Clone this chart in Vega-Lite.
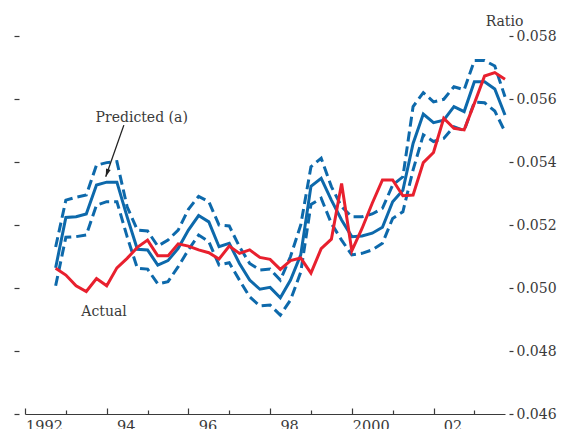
{
  "$schema": "https://vega.github.io/schema/vega-lite/v6.json",
  "width": 480,
  "height": 378,
  "autosize": {"type": "none"},
  "padding": {"left": 25, "top": 36, "right": 61, "bottom": 15},
  "background": "white",
  "config": {
    "view": {"stroke": null},
    "font": "DejaVu Serif",
    "axis": {
      "labelFont": "DejaVu Serif",
      "labelFontSize": 14,
      "labelColor": "#3a3a3a",
      "titleFont": "DejaVu Serif",
      "titleFontSize": 14,
      "titleFontWeight": "normal",
      "titleColor": "#3a3a3a",
      "grid": false,
      "domainColor": "#3a3a3a",
      "tickColor": "#3a3a3a",
      "tickWidth": 1.2
    }
  },
  "data": {
    "values": [
      {"t": 1992.75, "actual": 0.05063, "predicted": 0.05064, "upper": 0.0513, "lower": 0.05007},
      {"t": 1993.0, "actual": 0.05041, "predicted": 0.05224, "upper": 0.05279, "lower": 0.05161},
      {"t": 1993.25, "actual": 0.05007, "predicted": 0.05226, "upper": 0.05288, "lower": 0.05163},
      {"t": 1993.5, "actual": 0.04989, "predicted": 0.05235, "upper": 0.05295, "lower": 0.05168},
      {"t": 1993.75, "actual": 0.0503, "predicted": 0.05327, "upper": 0.0539, "lower": 0.05263},
      {"t": 1994.0, "actual": 0.05007, "predicted": 0.05336, "upper": 0.05398, "lower": 0.05274},
      {"t": 1994.25, "actual": 0.05064, "predicted": 0.05336, "upper": 0.05401, "lower": 0.05274},
      {"t": 1994.5, "actual": 0.05094, "predicted": 0.05226, "upper": 0.05258, "lower": 0.05163},
      {"t": 1994.75, "actual": 0.05129, "predicted": 0.05123, "upper": 0.05184, "lower": 0.05063},
      {"t": 1995.0, "actual": 0.05152, "predicted": 0.05121, "upper": 0.05181, "lower": 0.0506},
      {"t": 1995.25, "actual": 0.05102, "predicted": 0.05073, "upper": 0.05133, "lower": 0.05013},
      {"t": 1995.5, "actual": 0.05102, "predicted": 0.05087, "upper": 0.05152, "lower": 0.0502},
      {"t": 1995.75, "actual": 0.0514, "predicted": 0.05126, "upper": 0.05184, "lower": 0.05068},
      {"t": 1996.0, "actual": 0.05133, "predicted": 0.05184, "upper": 0.0525, "lower": 0.05121},
      {"t": 1996.25, "actual": 0.05121, "predicted": 0.0523, "upper": 0.05291, "lower": 0.05168},
      {"t": 1996.5, "actual": 0.05112, "predicted": 0.0521, "upper": 0.05274, "lower": 0.05147},
      {"t": 1996.75, "actual": 0.05092, "predicted": 0.05131, "upper": 0.052, "lower": 0.05073},
      {"t": 1997.0, "actual": 0.05133, "predicted": 0.05142, "upper": 0.05197, "lower": 0.0508},
      {"t": 1997.25, "actual": 0.0511, "predicted": 0.05078, "upper": 0.05131, "lower": 0.05025},
      {"t": 1997.5, "actual": 0.05121, "predicted": 0.05025, "upper": 0.05078, "lower": 0.04972},
      {"t": 1997.75, "actual": 0.05097, "predicted": 0.04996, "upper": 0.05057, "lower": 0.04943},
      {"t": 1998.0, "actual": 0.05091, "predicted": 0.05002, "upper": 0.0506, "lower": 0.04946},
      {"t": 1998.25, "actual": 0.05059, "predicted": 0.04969, "upper": 0.05025, "lower": 0.04914},
      {"t": 1998.5, "actual": 0.05087, "predicted": 0.05025, "upper": 0.051, "lower": 0.04962},
      {"t": 1998.75, "actual": 0.05095, "predicted": 0.05105, "upper": 0.052, "lower": 0.0505},
      {"t": 1999.0, "actual": 0.05047, "predicted": 0.05323, "upper": 0.05385, "lower": 0.05265},
      {"t": 1999.25, "actual": 0.05125, "predicted": 0.05348, "upper": 0.05412, "lower": 0.05285},
      {"t": 1999.5, "actual": 0.05155, "predicted": 0.05279, "upper": 0.05322, "lower": 0.05205},
      {"t": 1999.75, "actual": 0.05332, "predicted": 0.05216, "upper": 0.05258, "lower": 0.05152},
      {"t": 2000.0, "actual": 0.05118, "predicted": 0.05163, "upper": 0.05226, "lower": 0.05105},
      {"t": 2000.25, "actual": 0.05189, "predicted": 0.05165, "upper": 0.05226, "lower": 0.0511},
      {"t": 2000.5, "actual": 0.05269, "predicted": 0.05174, "upper": 0.05235, "lower": 0.05121},
      {"t": 2000.75, "actual": 0.05343, "predicted": 0.05193, "upper": 0.05253, "lower": 0.05142},
      {"t": 2001.0, "actual": 0.05343, "predicted": 0.05274, "upper": 0.05327, "lower": 0.05221},
      {"t": 2001.25, "actual": 0.05293, "predicted": 0.0531, "upper": 0.05353, "lower": 0.05242},
      {"t": 2001.5, "actual": 0.05295, "predicted": 0.05459, "upper": 0.05576, "lower": 0.05375},
      {"t": 2001.75, "actual": 0.05398, "predicted": 0.05552, "upper": 0.0562, "lower": 0.05486},
      {"t": 2002.0, "actual": 0.0543, "predicted": 0.05525, "upper": 0.05591, "lower": 0.05465},
      {"t": 2002.25, "actual": 0.05539, "predicted": 0.05533, "upper": 0.05599, "lower": 0.05475},
      {"t": 2002.5, "actual": 0.05507, "predicted": 0.05576, "upper": 0.05639, "lower": 0.05512},
      {"t": 2002.75, "actual": 0.05502, "predicted": 0.0556, "upper": 0.05629, "lower": 0.055},
      {"t": 2003.0, "actual": 0.05586, "predicted": 0.05655, "upper": 0.05722, "lower": 0.0559},
      {"t": 2003.25, "actual": 0.05673, "predicted": 0.05655, "upper": 0.05722, "lower": 0.05588},
      {"t": 2003.5, "actual": 0.05684, "predicted": 0.05632, "upper": 0.05705, "lower": 0.05562},
      {"t": 2003.75, "actual": 0.05663, "predicted": 0.05549, "upper": 0.05607, "lower": 0.05496}
    ]
  },
  "encoding": {
    "x": {
      "field": "t",
      "type": "quantitative",
      "scale": {"domain": [1992, 2003.75], "nice": false, "zero": false},
      "axis": {
        "title": null,
        "values": [1992, 1993, 1994, 1995, 1996, 1997, 1998, 1999, 2000, 2001, 2002, 2003],
        "labelExpr": "datum.value % 2 !== 0 ? '' : (datum.value === 1992 || datum.value === 2000 ? format(datum.value, 'd') : slice(format(datum.value, 'd'), 2))",
        "labelOffset": 19,
        "labelBaseline": "top",
        "labelPadding": 11,
        "labelFontSize": 14.5,
        "labelFlush": false,
        "labelOverlap": false,
        "domainWidth": 1.2,
        "tickSize": {"condition": {"test": "datum.value % 2 === 0", "value": -6}, "value": -4}
      }
    }
  },
  "resolve": {"axis": {"y": "independent"}},
  "layer": [
    {
      "mark": {"type": "line", "color": "#0d69ab", "strokeWidth": 3, "strokeDash": [10, 5]},
      "encoding": {
        "y": {
          "field": "lower",
          "type": "quantitative",
          "scale": {"domain": [0.046, 0.058], "nice": false, "zero": false},
          "axis": {
            "orient": "left",
            "title": null,
            "values": [0.046, 0.048, 0.05, 0.052, 0.054, 0.056, 0.058],
            "labels": false,
            "domain": false,
            "tickSize": 5,
            "offset": 6
          }
        }
      }
    },
    {
      "mark": {"type": "line", "color": "#0d69ab", "strokeWidth": 3, "strokeDash": [10, 5]},
      "encoding": {
        "y": {
          "field": "upper",
          "type": "quantitative",
          "scale": {"domain": [0.046, 0.058], "nice": false, "zero": false},
          "axis": {
            "orient": "right",
            "title": "Ratio",
            "titleAngle": 0,
            "titleAlign": "center",
            "titleBaseline": "alphabetic",
            "titleX": -5,
            "titleY": -11,
            "values": [0.046, 0.048, 0.05, 0.052, 0.054, 0.056, 0.058],
            "format": ".3f",
            "domain": false,
            "tickSize": 4,
            "offset": 4,
            "labelPadding": 3,
            "labelFlush": false,
            "labelOverlap": false
          }
        }
      }
    },
    {
      "mark": {"type": "line", "color": "#0d69ab", "strokeWidth": 3},
      "encoding": {
        "y": {"field": "predicted", "type": "quantitative", "scale": {"domain": [0.046, 0.058], "nice": false, "zero": false}, "axis": null}
      }
    },
    {
      "mark": {"type": "line", "color": "#e8202e", "strokeWidth": 3},
      "encoding": {
        "y": {"field": "actual", "type": "quantitative", "scale": {"domain": [0.046, 0.058], "nice": false, "zero": false}, "axis": null}
      }
    },
    {
      "data": {"values": [{"t": 1994.42, "v": 0.05517, "t2": 1993.976, "v2": 0.05353}]},
      "mark": {"type": "rule", "color": "#222222", "strokeWidth": 1.3},
      "encoding": {
        "y": {"field": "v", "type": "quantitative", "scale": {"domain": [0.046, 0.058], "nice": false, "zero": false}, "axis": null},
        "x2": {"field": "t2"},
        "y2": {"field": "v2"}
      }
    },
    {
      "data": {"values": [{"t": 1993.976, "v": 0.05353}]},
      "mark": {"type": "point", "shape": "M0,0L-0.4,-1.3L0.4,-1.3Z", "filled": true, "color": "#222222", "opacity": 1, "size": 150, "angle": 19.5},
      "encoding": {
        "y": {"field": "v", "type": "quantitative", "scale": {"domain": [0.046, 0.058], "nice": false, "zero": false}, "axis": null}
      }
    },
    {
      "data": {
        "values": [
          {"t": 1994.857, "v": 0.05528, "label": "Predicted (a)"},
          {"t": 1993.934, "v": 0.04911, "label": "Actual"}
        ]
      },
      "mark": {"type": "text", "font": "DejaVu Serif", "fontSize": 14, "color": "#3a3a3a", "align": "center", "baseline": "alphabetic"},
      "encoding": {
        "y": {"field": "v", "type": "quantitative", "scale": {"domain": [0.046, 0.058], "nice": false, "zero": false}, "axis": null},
        "text": {"field": "label"}
      }
    }
  ]
}
